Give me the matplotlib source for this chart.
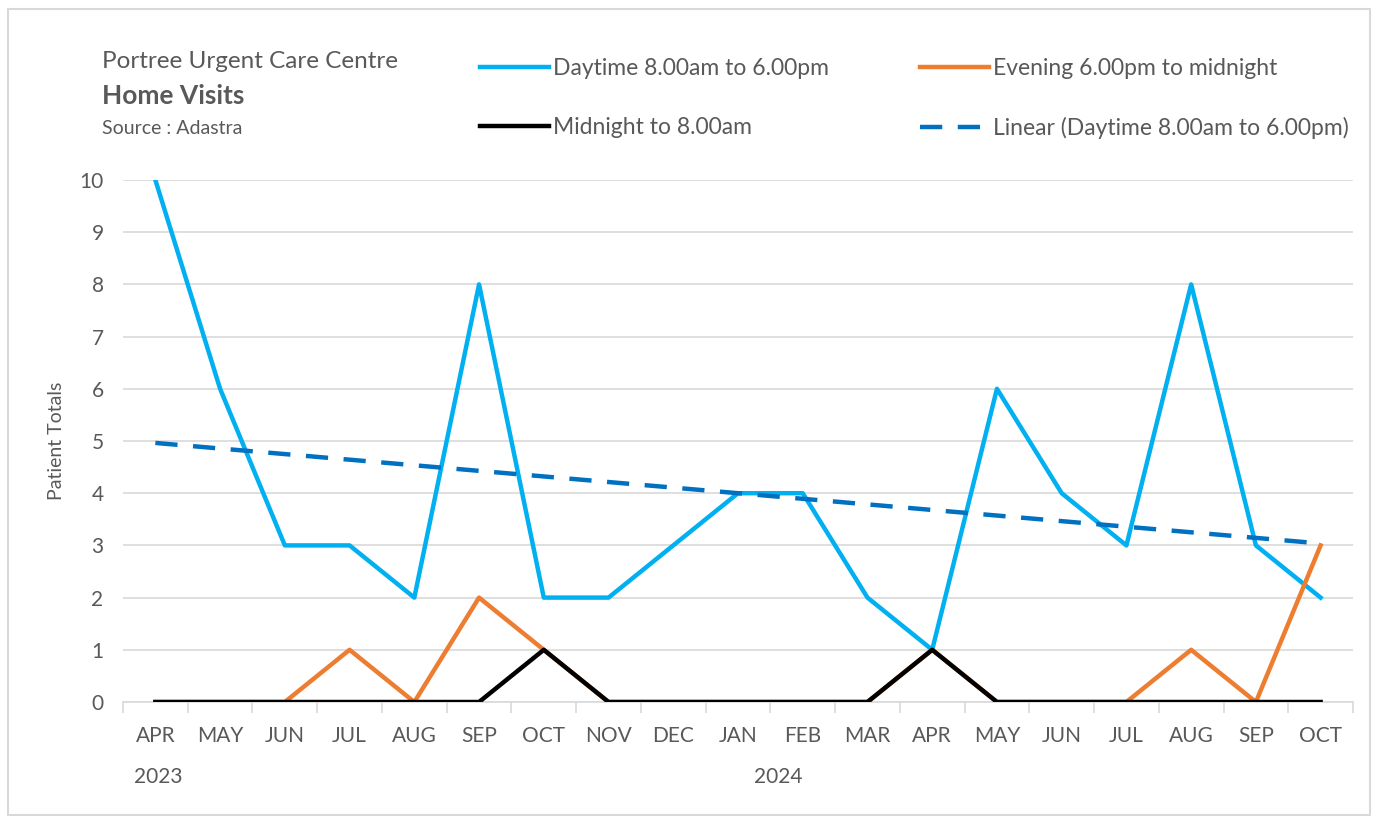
import numpy as np
import matplotlib.pyplot as plt
from matplotlib.patches import Rectangle

plt.rcParams['font.family'] = ['Lato', 'DejaVu Sans']

months = ['APR', 'MAY', 'JUN', 'JUL', 'AUG', 'SEP', 'OCT', 'NOV', 'DEC', 'JAN',
          'FEB', 'MAR', 'APR', 'MAY', 'JUN', 'JUL', 'AUG', 'SEP', 'OCT']
daytime = [10, 6, 3, 3, 2, 8, 2, 2, 3, 4, 4, 2, 1, 6, 4, 3, 8, 3, 2]
evening = [0, 0, 0, 1, 0, 2, 1, 0, 0, 0, 0, 0, 1, 0, 0, 0, 1, 0, 3]
midnight = [0, 0, 0, 0, 0, 0, 1, 0, 0, 0, 0, 0, 1, 0, 0, 0, 0, 0, 0]
years = ['2023', '2024']

grey = '#595959'
x = np.arange(len(months))

fig = plt.figure(figsize=(13.79, 8.16), dpi=100)
ax = fig.add_axes([123 / 1379, 1 - 702 / 816, 1230 / 1379, 522 / 816])

l1, = ax.plot(x, daytime, color='#00B0F0', lw=3.2, label='Daytime 8.00am to 6.00pm', zorder=3)
l2, = ax.plot(x, evening, color='#ED7D31', lw=3.2, label='Evening 6.00pm to midnight', zorder=4)
l3, = ax.plot(x, midnight, color='#000000', lw=3.2, label='Midnight to 8.00am', zorder=5)

# linear trend on daytime
k, b = np.polyfit(x, daytime, 1)
l4, = ax.plot(x, k * x + b, color='#0070C0', lw=3.2, ls=(0, (5, 3.5)),
              label='Linear (Daytime 8.00am to 6.00pm)', zorder=6)

ax.set_xlim(-0.5, len(months) - 0.5)
ax.set_ylim(0, 10)
ax.set_yticks(range(0, 11))
ax.set_xticks(x)
ax.set_xticklabels(months)
ax.set_xticks(np.arange(-0.5, len(months)), minor=True)
ax.tick_params(axis='x', which='major', length=0, pad=17, labelsize=15, labelcolor=grey)
ax.tick_params(axis='x', which='minor', length=8, width=1.2, color='#d9d9d9')
ax.tick_params(axis='y', length=0, pad=14, labelsize=15, labelcolor=grey)
ax.grid(axis='y', color='#d9d9d9', lw=1.2)
ax.set_axisbelow(True)
for s in ['top', 'right', 'left']:
    ax.spines[s].set_visible(False)
ax.spines['bottom'].set_color('#d9d9d9')
ax.spines['bottom'].set_linewidth(1.2)
ax.set_ylabel('Patient Totals', fontsize=14, color=grey, labelpad=10)

# year labels
fig.text(158 / 1379, 1 - 777 / 816, years[0], fontsize=15, color=grey, ha='center', va='center')
fig.text(778 / 1379, 1 - 777 / 816, years[1], fontsize=15, color=grey, ha='center', va='center')

# titles
fig.text(102 / 1379, 1 - 61 / 816, 'Portree Urgent Care Centre', fontsize=17.5, color=grey, va='center')
fig.text(102 / 1379, 1 - 96 / 816, 'Home Visits', fontsize=19, color=grey, weight='bold', va='center')
fig.text(102 / 1379, 1 - 128 / 816, 'Source : Adastra', fontsize=14, color=grey, va='center')

fig.legend(handles=[l1, l3, l2, l4], ncol=2, loc='upper left',
           bbox_to_anchor=(480 / 1379, 1 - 58 / 816), frameon=False,
           fontsize=16.5, labelcolor=grey, handlelength=3.0, handletextpad=0.2,
           columnspacing=3.95, labelspacing=1.65, borderaxespad=0, borderpad=0)

fig.patches.append(Rectangle((8 / 1379, 1 / 816), 1362 / 1379, 806 / 816,
                             transform=fig.transFigure, fill=False,
                             edgecolor='#d9d9d9', lw=1.5))

fig.savefig('out.png', dpi=100)
